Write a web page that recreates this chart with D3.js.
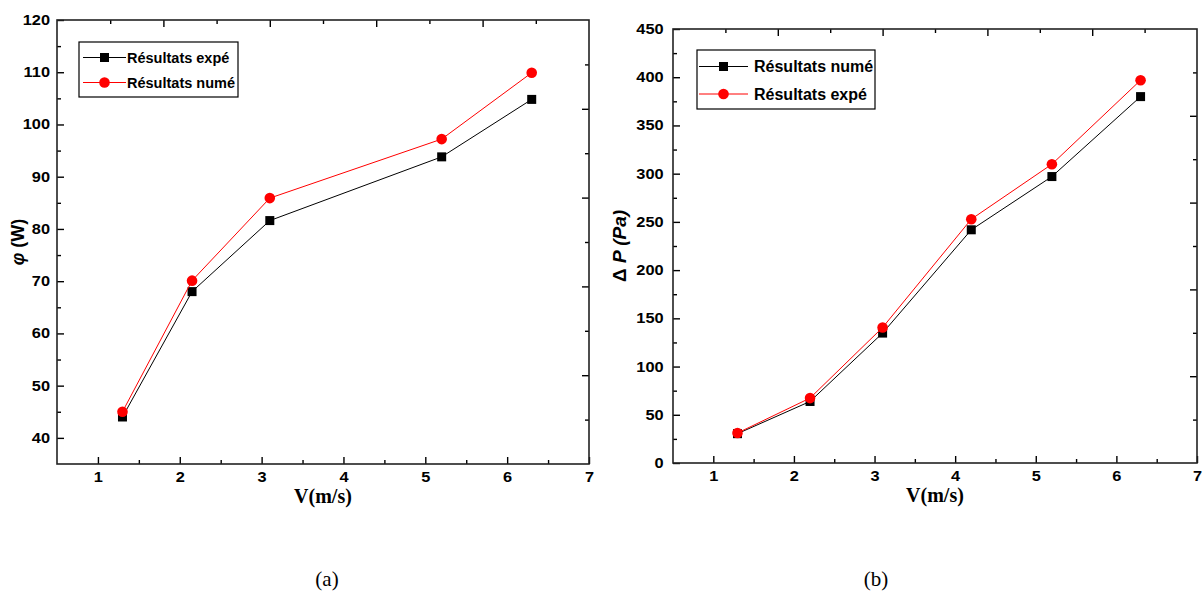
<!DOCTYPE html>
<html>
<head>
<meta charset="utf-8">
<script src="https://cdn.jsdelivr.net/npm/d3@7"></script>
<style>
  html, body { margin: 0; padding: 0; background: #fff; }
  svg { display: block; }
  .tick text { font-family: "Liberation Sans", Arial, sans-serif; font-weight: bold; font-size: 14px; fill: #000; }
</style>
</head>
<body>
<svg id="chart" width="1203" height="592"></svg>
<script>
// Panel (a): heat flux vs velocity
const phiV   = [1.3, 2.15, 3.1, 5.2, 6.3];
const phiExp = [44.0, 68.0, 81.6, 93.8, 104.8];
const phiNum = [45.0, 70.1, 85.9, 97.2, 109.9];

// Panel (b): pressure drop vs velocity
const dpV   = [1.3, 2.2, 3.1, 4.2, 5.2, 6.3];
const dpNum = [30.4, 63.8, 134.7, 241.8, 297.0, 379.9];
const dpExp = [31.1, 67.3, 140.5, 252.8, 309.8, 396.9];

const xTicks = [1, 2, 3, 4, 5, 6, 7];
const phiTicks = [40, 50, 60, 70, 80, 90, 100, 110, 120];
const dpTicks = [0, 50, 100, 150, 200, 250, 300, 350, 400, 450];

const svg = d3.select("#chart");
const SANS = "'Liberation Sans', Arial, sans-serif";
const SERIF = "'Liberation Serif', 'Times New Roman', serif";
const WIDE = 1.17; // horizontal stretch of the tick numerals

function drawPanel(cfg) {
  const g = svg.append("g");
  const x = d3.scaleLinear().domain(cfg.xDomain).range([cfg.left, cfg.right]);
  const y = d3.scaleLinear().domain(cfg.yDomain).range([cfg.bottom, cfg.top]);
  const w = cfg.right - cfg.left, h = cfg.bottom - cfg.top;

  // bottom axis: major + minor ticks pointing inward
  const minorX = xTicks.slice(0, -1).map(v => v + 0.5);
  g.append("g").attr("transform", `translate(0,${cfg.bottom})`)
    .call(d3.axisBottom(x).tickValues(minorX).tickSizeInner(-4).tickSizeOuter(0).tickFormat(""));
  g.append("g").attr("transform", `translate(0,${cfg.bottom})`)
    .call(d3.axisBottom(x).tickValues(xTicks).tickSizeInner(-7).tickSizeOuter(0).tickPadding(8).tickFormat(d3.format("d")))
    .selectAll(".tick text").attr("transform", `scale(${WIDE},1)`);

  // left axis
  const step = cfg.yTicks[1] - cfg.yTicks[0];
  const minorY = cfg.yTicks.map(v => v + step / 2).filter(v => v < cfg.yDomain[1]);
  g.append("g").attr("transform", `translate(${cfg.left},0)`)
    .call(d3.axisLeft(y).tickValues(minorY).tickSizeInner(-4).tickSizeOuter(0).tickFormat(""));
  g.append("g").attr("transform", `translate(${cfg.left},0)`)
    .call(d3.axisLeft(y).tickValues(cfg.yTicks).tickSizeInner(-7).tickSizeOuter(0).tickPadding(cfg.yPad).tickFormat(d3.format("d")))
    .selectAll(".tick text").attr("transform", `scale(${WIDE},1)`);

  // top and right mirror axes, ten divisions each
  const div = d3.range(1, 10);
  const xt = d3.scaleLinear().domain([0, 10]).range([cfg.left, cfg.right]);
  const yr = d3.scaleLinear().domain([0, 10]).range([cfg.top, cfg.bottom]);
  g.append("g").attr("transform", `translate(0,${cfg.top})`)
    .call(d3.axisTop(xt).tickValues(div).tickSizeInner(0).tickSizeOuter(0).tickFormat(""))
    .selectAll(".tick line").attr("y2", d => d % 2 === 0 ? 7 : 4);
  g.append("g").attr("transform", `translate(${cfg.right},0)`)
    .call(d3.axisRight(yr).tickValues(div).tickSizeInner(0).tickSizeOuter(0).tickFormat(""))
    .selectAll(".tick line").attr("x2", d => d % 2 === 0 ? -7 : -4);

  g.selectAll(".domain").remove();
  g.selectAll(".tick line").attr("stroke", "#000").attr("stroke-width", 1.4);

  // frame
  g.append("rect").attr("x", cfg.left).attr("y", cfg.top).attr("width", w).attr("height", h)
    .attr("fill", "none").attr("stroke", "#222").attr("stroke-width", 1.6);

  // series
  cfg.series.forEach(s => {
    const pts = cfg.xs.map((v, i) => [x(v), y(s.values[i])]);
    g.append("path").attr("d", d3.line()(pts)).attr("fill", "none")
      .attr("stroke", s.color).attr("stroke-width", 1);
    pts.forEach(p => drawMarker(g, s.shape, p[0], p[1], s.color));
  });

  // legend
  const lg = g.append("g");
  lg.append("rect").attr("x", cfg.legend.x).attr("y", cfg.legend.y)
    .attr("width", cfg.legend.w).attr("height", cfg.legend.h)
    .attr("fill", "#fff").attr("stroke", "#000").attr("stroke-width", 1.2);
  cfg.legend.rows.forEach((r, i) => {
    const ry = cfg.legend.y + cfg.legend.row0 + i * cfg.legend.rowGap;
    const lx0 = cfg.legend.x + cfg.legend.lineX0, lx1 = lx0 + cfg.legend.lineLen;
    lg.append("line").attr("x1", lx0).attr("x2", lx1).attr("y1", ry).attr("y2", ry)
      .attr("stroke", r.color).attr("stroke-width", 1);
    drawMarker(lg, r.shape, (lx0 + lx1) / 2, ry, r.color);
    lg.append("text").attr("x", lx1 + cfg.legend.textGap).attr("y", ry + cfg.legend.fs * 0.36)
      .attr("font-family", SANS).attr("font-weight", "bold").attr("font-size", cfg.legend.fs)
      .text(r.label);
  });

  // axis titles
  g.append("text").attr("x", (cfg.left + cfg.right) / 2).attr("y", cfg.bottom + 39)
    .attr("text-anchor", "middle").attr("font-family", SERIF).attr("font-weight", "bold")
    .attr("font-size", 20).text("V(m/s)");
  const yl = g.append("text")
    .attr("transform", `translate(${cfg.yLabelX},${(cfg.top + cfg.bottom) / 2}) rotate(-90)`)
    .attr("text-anchor", "middle").attr("font-family", SANS).attr("font-weight", "bold")
    .attr("font-size", cfg.yLabelSize);
  cfg.yLabel.forEach(part => {
    yl.append("tspan").attr("font-style", part.italic ? "italic" : "normal").text(part.t);
  });

  // caption
  svg.append("text").attr("x", cfg.captionX).attr("y", 586).attr("text-anchor", "middle")
    .attr("font-family", SERIF).attr("font-size", 21).text(cfg.caption);
}

function drawMarker(g, shape, cx, cy, color) {
  if (shape === "square") {
    g.append("rect").attr("x", cx - 4.5).attr("y", cy - 4.5).attr("width", 9).attr("height", 9)
      .attr("fill", color);
  } else {
    g.append("circle").attr("cx", cx).attr("cy", cy).attr("r", 5.3).attr("fill", color);
  }
}

drawPanel({
  left: 57, right: 589, top: 20, bottom: 464,
  xDomain: [0.5, 7], yDomain: [35, 120], yTicks: phiTicks, yPad: 6,
  xs: phiV,
  series: [
    { values: phiExp, color: "#000", shape: "square" },
    { values: phiNum, color: "#ff0000", shape: "circle" }
  ],
  legend: { x: 79, y: 42, w: 159, h: 55, row0: 15.5, rowGap: 25, lineX0: 4, lineLen: 43, textGap: 1, fs: 14.5,
    rows: [
      { label: "Résultats expé", color: "#000", shape: "square" },
      { label: "Résultats numé", color: "#ff0000", shape: "circle" }
    ] },
  yLabel: [{ t: "φ", italic: true }, { t: " (W)" }], yLabelX: 24, yLabelSize: 18,
  caption: "(a)", captionX: 327
});

drawPanel({
  left: 673, right: 1197, top: 29, bottom: 463,
  xDomain: [0.5, 7], yDomain: [0, 450], yTicks: dpTicks, yPad: 8,
  xs: dpV,
  series: [
    { values: dpNum, color: "#000", shape: "square" },
    { values: dpExp, color: "#ff0000", shape: "circle" }
  ],
  legend: { x: 697, y: 50, w: 178, h: 59, row0: 16.5, rowGap: 27.5, lineX0: 2, lineLen: 49, textGap: 6, fs: 16,
    rows: [
      { label: "Résultats numé", color: "#000", shape: "square" },
      { label: "Résultats expé", color: "#ff0000", shape: "circle" }
    ] },
  yLabel: [{ t: "Δ " }, { t: "P (Pa)", italic: true }], yLabelX: 626, yLabelSize: 19,
  caption: "(b)", captionX: 876
});
</script>
</body>
</html>
